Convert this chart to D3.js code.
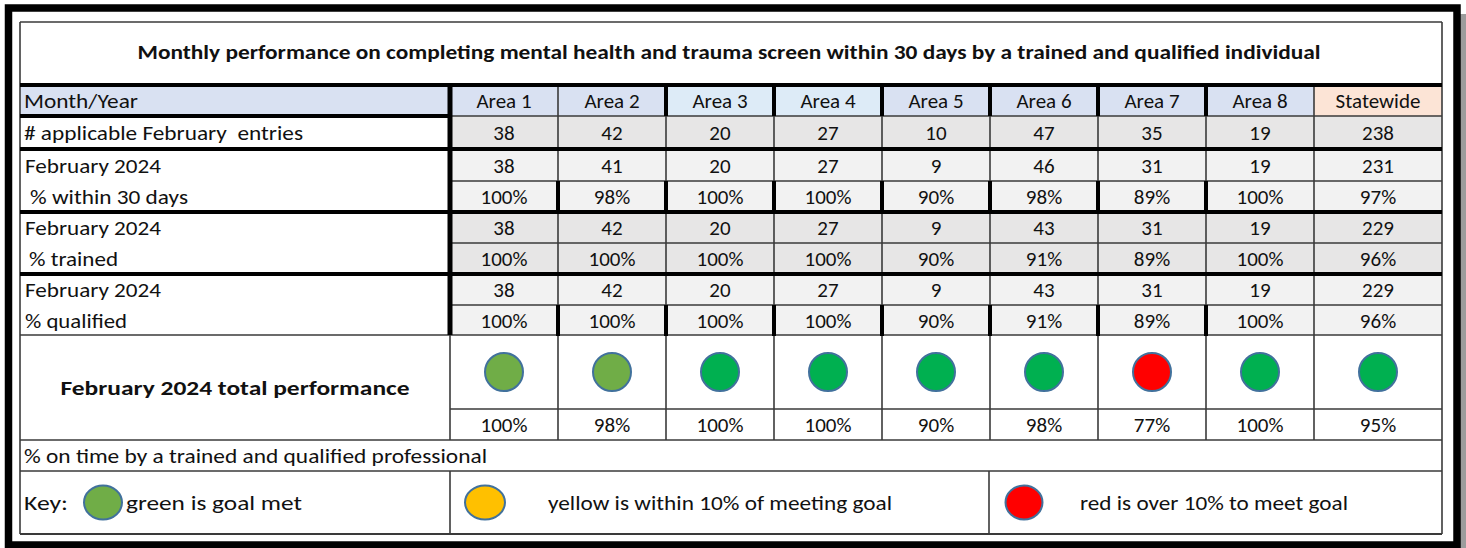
<!DOCTYPE html>
<html><head><meta charset="utf-8">
<script src="https://cdn.jsdelivr.net/npm/d3@7"></script>
<style>
html,body{margin:0;padding:0;background:#fff;}
svg{display:block;}
text{font-family:Carlito,Calibri,Lato,sans-serif;fill:#111;white-space:pre;}
</style>
</head><body><div id="chart"></div>
<script>
// ---------- data ----------
const title = "Monthly performance on completing mental health and trauma screen within 30 days by a trained and qualified individual";
const headerLabel = "Month/Year";
const areas = ["Area 1","Area 2","Area 3","Area 4","Area 5","Area 6","Area 7","Area 8","Statewide"];
const applicable     = [38,42,20,27,10,47,35,19,238];
const within30Count  = [38,41,20,27,9,46,31,19,231];
const within30Pct    = [100,98,100,100,90,98,89,100,97];
const trainedCount   = [38,42,20,27,9,43,31,19,229];
const trainedPct     = [100,100,100,100,90,91,89,100,96];
const qualifiedCount = [38,42,20,27,9,43,31,19,229];
const qualifiedPct   = [100,100,100,100,90,91,89,100,96];
const totalPct       = [100,98,100,100,90,98,77,100,95];
const totalStatus    = ["olive","olive","green","green","green","green","red","green","green"];
const rowLabels = ["# applicable February  entries","February 2024","% within 30 days","February 2024","% trained","February 2024","% qualified"];
const totalLabel = "February 2024 total performance";
const footLabel = "% on time by a trained and qualified professional";
const keyLabels = ["green is goal met","yellow is within 10% of meeting goal","red is over 10% to meet goal"];
const keyStatus = ["olive","yellow","red"];

// ---------- layout ----------
const W = 1466, H = 548;
const L = 20, R = 1442, LX = 450, SX = 1314;
const Y = {top:22, title:85, head:116, r:[116,149,181,212,243,274,305,335], circ:409, pct:440, foot:471, key:534};
const FS = 21;

const svg = d3.select("#chart").append("svg").attr("width",W).attr("height",H);

const color = d3.scaleOrdinal().domain(["olive","green","red","yellow"]).range(["#70AD47","#00B050","#FF0000","#FFC000"]);
const xb = d3.scaleBand().domain(areas.slice(0,8)).range([LX,SX]);
const colX = i => i < 8 ? xb(areas[i]) : SX;
const colW = i => i < 8 ? xb.bandwidth() : R - SX;
const colC = i => colX(i) + colW(i)/2;

// frame
svg.append("rect").attr("x",1460).attr("y",14).attr("width",6).attr("height",H-14).attr("fill","#9c9c9c");
svg.append("rect").attr("x",8.5).attr("y",8).attr("width",1448.5).attr("height",537).attr("fill","#fff").attr("stroke","#000").attr("stroke-width",7.5);

// header fills
const headFill = ["#D9E1F2","#D9E1F2","#DDEBF7","#DDEBF7","#D9E1F2","#D9E1F2","#D9E1F2","#D9E1F2","#FCE4D6"];
svg.append("rect").attr("x",L).attr("y",Y.title).attr("width",LX-L).attr("height",Y.head-Y.title).attr("fill","#D9E1F2");
svg.selectAll("rect.hd").data(areas).join("rect").attr("class","hd")
  .attr("x",(d,i)=>colX(i)).attr("y",Y.title).attr("width",(d,i)=>colW(i)).attr("height",Y.head-Y.title)
  .attr("fill",(d,i)=>headFill[i]);

// data rows
const rowVals = [applicable,within30Count,within30Pct,trainedCount,trainedPct,qualifiedCount,qualifiedPct];
const rowPct = [false,false,true,false,true,false,true];
const rowFill = ["#E7E6E6","#F2F2F2","#F2F2F2","#E7E6E6","#E7E6E6","#F2F2F2","#F2F2F2"];
const rows = rowVals.map((v,k)=>({label:rowLabels[k], vals:v, pct:rowPct[k], y0:Y.r[k], y1:Y.r[k+1], fill:rowFill[k]}));

rows.forEach(r=>{
  svg.append("g").selectAll("rect").data(r.vals).join("rect")
    .attr("x",(d,i)=>colX(i)).attr("y",r.y0).attr("width",(d,i)=>colW(i)).attr("height",r.y1-r.y0)
    .attr("fill",r.fill);
});

// lines
const thin = "#3a3a3a", TW = 1.6, KW = 4;
function ln(x1,y1,x2,y2,w,c){svg.append("line").attr("x1",x1).attr("y1",y1).attr("x2",x2).attr("y2",y2).attr("stroke",c).attr("stroke-width",w);}
// outline
ln(L,Y.top,R,Y.top,TW,thin); ln(L,Y.top,L,Y.key,TW,thin); ln(R,Y.top,R,Y.key,TW,thin); ln(L,Y.key,R,Y.key,TW+0.4,thin);
// thin horizontals
[Y.head,181,243,305,Y.circ].forEach(y=>ln(LX,y,R,y,TW,thin));
[Y.r[7],Y.pct,Y.foot].forEach(y=>ln(L,y,R,y,TW,thin));
// thin verticals between area columns
const edges = areas.map((d,i)=>colX(i)).slice(1);
edges.forEach(x=>ln(x,Y.title,x,Y.pct,TW,thin));
ln(LX,Y.r[7],LX,Y.pct,TW,thin);
ln(LX,Y.foot,LX,Y.key,TW,thin);
ln(colX(5)-1,Y.foot,colX(5)-1,Y.key,TW,thin);
// thick
ln(L,Y.title,R,Y.title,KW,"#000");
ln(L,Y.head,LX,Y.head,KW,"#000");
[149,212,274].forEach(y=>ln(L,y,R,y,KW,"#000"));
ln(LX,Y.title-2,LX,Y.r[7],KW+1,"#000");
edges.forEach((x,j)=>{
  if (j>=1 && j<=6) ln(x,Y.title,x,Y.head,KW,"#000");
  if (j<=6) { ln(x,181,x,212,KW,"#000"); ln(x,305,x,Y.r[7]+1,KW,"#000"); }
});

// text
const baseline = (y0,y1)=> (y0+y1)/2 + 0.36*FS;
svg.append("text").attr("x",(L+R)/2 - 2).attr("y",52+0.36*20).attr("text-anchor","middle")
  .attr("font-size",20).attr("font-weight","bold").attr("textLength",1183).attr("lengthAdjust","spacingAndGlyphs").text(title);
svg.append("text").attr("x",24).attr("y",baseline(Y.title,Y.head)).attr("font-size",FS)
  .attr("textLength",114).attr("lengthAdjust","spacingAndGlyphs").text(headerLabel);
svg.selectAll("text.hd").data(areas).join("text").attr("class","hd")
  .attr("x",(d,i)=>colC(i)).attr("y",baseline(Y.title,Y.head)).attr("text-anchor","middle").attr("font-size",FS).text(d=>d);

const labX = [24,25,30,25,29,25,25];
const labLen = [279,136,158,136,89,136,102];
rows.forEach((r,k)=>{
  svg.append("text").attr("x",labX[k]).attr("y",baseline(r.y0,r.y1)).attr("font-size",FS)
    .attr("textLength",labLen[k]).attr("lengthAdjust","spacingAndGlyphs").text(r.label);
  svg.append("g").selectAll("text").data(r.vals).join("text")
    .attr("x",(d,i)=>colC(i)).attr("y",baseline(r.y0,r.y1)).attr("text-anchor","middle").attr("font-size",FS)
    .text(d=> r.pct ? d+"%" : d);
});

// total performance
svg.append("text").attr("x",(L+LX)/2).attr("y",baseline(Y.r[7],Y.pct)).attr("text-anchor","middle")
  .attr("font-size",FS).attr("font-weight","bold").attr("textLength",349).attr("lengthAdjust","spacingAndGlyphs").text(totalLabel);
svg.append("g").selectAll("circle").data(totalStatus).join("circle")
  .attr("cx",(d,i)=>colC(i)).attr("cy",(Y.r[7]+Y.circ)/2).attr("r",19)
  .attr("fill",d=>color(d)).attr("stroke","#41719C").attr("stroke-width",2);
svg.append("g").selectAll("text").data(totalPct).join("text")
  .attr("x",(d,i)=>colC(i)).attr("y",baseline(Y.circ,Y.pct)).attr("text-anchor","middle").attr("font-size",FS)
  .text(d=>d+"%");

// footer
svg.append("text").attr("x",24).attr("y",baseline(Y.pct,Y.foot)).attr("font-size",FS)
  .attr("textLength",463).attr("lengthAdjust","spacingAndGlyphs").text(footLabel);

// key
const ky = (Y.foot+Y.key)/2;
svg.append("text").attr("x",24).attr("y",ky+0.36*FS).attr("font-size",FS).attr("textLength",44).attr("lengthAdjust","spacingAndGlyphs").text("Key:");
const keyCx = [103,485,1024], keyRx = [19,20,18.5], keyTx = [126,548,1080], keyLen = [176,344,268];
keyStatus.forEach((s,i)=>{
  svg.append("ellipse").attr("cx",keyCx[i]).attr("cy",ky).attr("rx",keyRx[i]).attr("ry",17)
    .attr("fill",color(s)).attr("stroke","#41719C").attr("stroke-width",2);
  svg.append("text").attr("x",keyTx[i]).attr("y",ky+0.36*FS).attr("font-size",FS)
    .attr("textLength",keyLen[i]).attr("lengthAdjust","spacingAndGlyphs").text(keyLabels[i]);
});
</script>
</body></html>
